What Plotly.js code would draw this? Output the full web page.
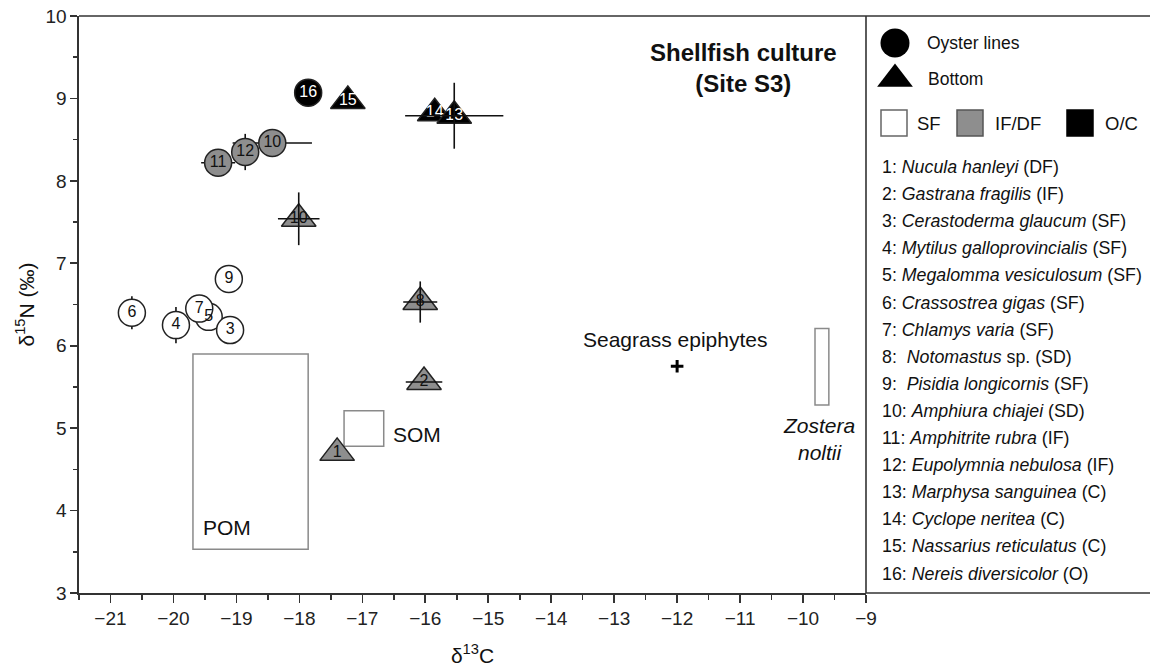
<!DOCTYPE html>
<html><head><meta charset="utf-8">
<script src="https://cdn.plot.ly/plotly-3.0.1.min.js"></script>
<style>html,body{margin:0;padding:0;background:#fff}#chart{width:1150px;height:671px}</style>
</head><body><div id="chart"></div>
<script>
// ---- Oyster lines (circles) ----
const oysterIds   = [6, 5, 4, 7, 3, 9, 11, 12, 10, 16];
const oysterC     = [-20.66, -19.44, -19.96, -19.59, -19.10, -19.12, -19.29, -18.86, -18.43, -17.86];
const oysterN     = [6.40, 6.35, 6.25, 6.45, 6.19, 6.81, 8.22, 8.35, 8.46, 9.07];
const oysterErrC  = [0, 0, 0, 0, 0, 0, 0.27, 0.12, 0.63, 0];
const oysterErrN  = [0.20, 0, 0.22, 0, 0, 0, 0, 0.22, 0, 0];
const oysterGroup = ['SF','SF','SF','SF','SF','SF','IF/DF','IF/DF','IF/DF','O/C'];
// ---- Bottom (triangles) ----
const bottomIds   = [1, 2, 8, 10, 15, 14, 13];
const bottomC     = [-17.40, -16.02, -16.08, -18.01, -17.23, -15.85, -15.54];
const bottomN     = [4.70, 5.56, 6.53, 7.54, 8.97, 8.82, 8.79];
const bottomErrC  = [0, 0.29, 0.27, 0.33, 0, 0, 0.78];
const bottomErrN  = [0, 0, 0.25, 0.32, 0, 0, 0.40];
const bottomGroup = ['IF/DF','IF/DF','IF/DF','IF/DF','O/C','O/C','O/C'];
// ---- Food sources (boxes) ----
const sourceNames = ['POM', 'SOM', 'Zostera noltii'];
const sourceC0 = [-19.69, -17.29, -9.81];
const sourceC1 = [-17.86, -16.66, -9.59];
const sourceN0 = [3.53, 4.78, 5.28];
const sourceN1 = [5.90, 5.21, 6.21];
const epiphyteC = [-12.00];
const epiphyteN = [5.75];
// ---- Legend list ----
const speciesIds = [1,2,3,4,5,6,7,8,9,10,11,12,13,14,15,16];
const speciesNames = ['Nucula hanleyi','Gastrana fragilis','Cerastoderma glaucum','Mytilus galloprovincialis',
  'Megalomma vesiculosum','Crassostrea gigas','Chlamys varia','Notomastus','Pisidia longicornis',
  'Amphiura chiajei','Amphitrite rubra','Eupolymnia nebulosa','Marphysa sanguinea','Cyclope neritea',
  'Nassarius reticulatus','Nereis diversicolor'];
const speciesSuffix = ['','','','','','','',' sp.','','','','','','','',''];
const speciesGroups = ['DF','IF','SF','SF','SF','SF','SF','SD','SF','SD','IF','IF','C','C','C','O'];
const feedingGroups = ['SF','IF/DF','O/C'];
const xTicks = [-21,-20,-19,-18,-17,-16,-15,-14,-13,-12,-11,-10,-9];

const FONT = '"Liberation Sans", Arial, Helvetica, sans-serif';
const fill = {'SF':'#ffffff','IF/DF':'#8e8e8e','O/C':'#000000'};
const txtc = {'SF':'#111','IF/DF':'#111','O/C':'#ffffff'};
const edge = '#222';
const errStyle = {color:'#111', thickness:1.6, width:0};

const traces = [];
// circles with bars underneath
traces.push({
  type:'scatter', mode:'markers+text', x:oysterC, y:oysterN, text:oysterIds.map(String),
  textposition:'middle center', textfont:{family:FONT, size:16, color:oysterGroup.map(g=>txtc[g])},
  marker:{symbol:'circle', size:27, color:oysterGroup.map(g=>fill[g]), line:{color:edge, width:1.5}},
  error_x:Object.assign({type:'data', array:oysterErrC, visible:true}, errStyle),
  error_y:Object.assign({type:'data', array:oysterErrN, visible:true}, errStyle),
  cliponaxis:false, showlegend:false, hoverinfo:'skip'
});
// triangles
traces.push({
  type:'scatter', mode:'markers+text', x:bottomC, y:bottomN, text:bottomIds.map(String),
  textposition:'middle center', textfont:{family:FONT, size:16, color:bottomGroup.map(g=>txtc[g])},
  marker:{symbol:'triangle-up', size:30, color:bottomGroup.map(g=>fill[g]), line:{color:edge, width:1.5}},
  cliponaxis:false, showlegend:false, hoverinfo:'skip'
});
// triangle bars on top
traces.push({
  type:'scatter', mode:'markers', x:bottomC, y:bottomN,
  marker:{size:1, opacity:0},
  error_x:Object.assign({type:'data', array:bottomErrC, visible:true}, errStyle),
  error_y:Object.assign({type:'data', array:bottomErrN, visible:true}, errStyle),
  showlegend:false, hoverinfo:'skip'
});
// seagrass epiphytes
traces.push({
  type:'scatter', mode:'markers', x:epiphyteC, y:epiphyteN,
  marker:{symbol:'cross-thin', size:9, line:{color:'#000', width:3}},
  showlegend:false, hoverinfo:'skip'
});
// legend symbols (x2/y2 in pixel-like units of the panel)
traces.push({
  type:'scatter', mode:'markers', xaxis:'x2', yaxis:'y2', x:[29], y:[27],
  marker:{symbol:'circle', size:29, color:'#000'}, showlegend:false, hoverinfo:'skip'
});
traces.push({
  type:'scatter', mode:'markers', xaxis:'x2', yaxis:'y2', x:[29], y:[63],
  marker:{symbol:'triangle-up', size:31, color:'#000'}, showlegend:false, hoverinfo:'skip'
});
const sqX = [28, 104, 214];
traces.push({
  type:'scatter', mode:'markers', xaxis:'x2', yaxis:'y2', x:sqX, y:[107,107,107],
  marker:{symbol:'square', size:26, color:feedingGroups.map(g=>fill[g]),
          line:{color:['#666','#555','#000'], width:1.5}},
  showlegend:false, hoverinfo:'skip'
});

const shapes = [];
sourceNames.forEach((n,i)=>{
  shapes.push({type:'rect', xref:'x', yref:'y', x0:sourceC0[i], x1:sourceC1[i], y0:sourceN0[i], y1:sourceN1[i],
    line:{color:'#8a8a8a', width:1.5}, fillcolor:'rgba(0,0,0,0)', layer:'below'});
});
const LINE = {color:'#333', width:1.6};
const split = 787/1071;
shapes.push({type:'line', xref:'paper', yref:'paper', x0:0, x1:1, y0:1, y1:1, line:LINE});
shapes.push({type:'line', xref:'paper', yref:'paper', x0:split, x1:1, y0:0, y1:0, line:LINE});
shapes.push({type:'line', xref:'paper', yref:'paper', x0:split, x1:split, y0:0, y1:1, line:LINE});

const annotations = [];
const txtFont = {family:FONT, size:21, color:'#111'};
annotations.push({xref:'x', yref:'y', x:-10.95, y:9.375, text:'<b>Shellfish culture<br>(Site S3)</b>',
  showarrow:false, font:{family:FONT, size:24, color:'#111'}, align:'center'});
annotations.push({xref:'x', yref:'y', x:-12.03, y:6.08, text:'Seagrass epiphytes', showarrow:false, font:txtFont});
annotations.push({xref:'x', yref:'y', x:-16.13, y:4.92, text:sourceNames[1], showarrow:false, font:txtFont});
annotations.push({xref:'x', yref:'y', x:-19.15, y:3.79, text:sourceNames[0], showarrow:false, font:txtFont});
annotations.push({xref:'x', yref:'y', x:-9.75, y:4.87, text:'<i>Zostera<br>noltii</i>', showarrow:false, font:txtFont, align:'center'});

const legFont = {family:FONT, size:17.5, color:'#111'};
const listFont = {family:FONT, size:17.8, color:'#111'};
annotations.push({xref:'x2', yref:'y2', x:59, y:27, xanchor:'left', text:'Oyster lines', showarrow:false, font:legFont});
annotations.push({xref:'x2', yref:'y2', x:60, y:63, xanchor:'left', text:'Bottom', showarrow:false, font:legFont});
const sqLabX = [49, 127, 237];
feedingGroups.forEach((g,i)=>{
  annotations.push({xref:'x2', yref:'y2', x:sqLabX[i], y:107, xanchor:'left', text:g, showarrow:false, font:{family:FONT, size:18.5, color:'#111'}});
});
speciesIds.forEach((id,i)=>{
  const gap = (id===8||id===9) ? '&nbsp;' : '';
  annotations.push({xref:'x2', yref:'y2', x:14, y:151 + 27.1*i, xanchor:'left', showarrow:false, font:listFont,
    text: id + ': ' + gap + '<i>' + speciesNames[i] + '</i>' + speciesSuffix[i] + ' (' + speciesGroups[i] + ')'});
});

const axisCommon = {
  showline:true, linecolor:'#333', linewidth:1.6, showgrid:false, zeroline:false,
  ticks:'outside', ticklen:8, tickwidth:1.6, tickcolor:'#333',
  tickfont:{family:FONT, size:19, color:'#222'},
};
const layout = {
  width:1150, height:671, paper_bgcolor:'#fff', plot_bgcolor:'#fff',
  margin:{l:79, r:0, t:16, b:78},
  font:{family:FONT},
  showlegend:false,
  xaxis:Object.assign({}, axisCommon, {
    domain:[0, split], range:[-21.5, -9], tickmode:'array', tickvals:xTicks,
    minor:{dtick:0.5, ticks:'outside', ticklen:5, tickwidth:1.6, tickcolor:'#333', showgrid:false},
    title:{text:'δ<sup>13</sup>C', font:{family:FONT, size:21, color:'#111'}, standoff:20}
  }),
  yaxis:Object.assign({}, axisCommon, {
    range:[3, 10], dtick:1, ticklen:7,
    minor:{dtick:0.5, ticks:'outside', ticklen:4, tickwidth:1.6, tickcolor:'#333', showgrid:false},
    title:{text:'δ<sup>15</sup>N (‰)', font:{family:FONT, size:21, color:'#111'}, standoff:5}
  }),
  xaxis2:{domain:[split, 1], range:[0, 284], visible:false, anchor:'y2'},
  yaxis2:{domain:[0, 1], range:[577, 0], visible:false, anchor:'x2'},
  shapes:shapes, annotations:annotations, hovermode:false
};
Plotly.newPlot('chart', traces, layout, {displayModeBar:false, staticPlot:true});
</script></body></html>
